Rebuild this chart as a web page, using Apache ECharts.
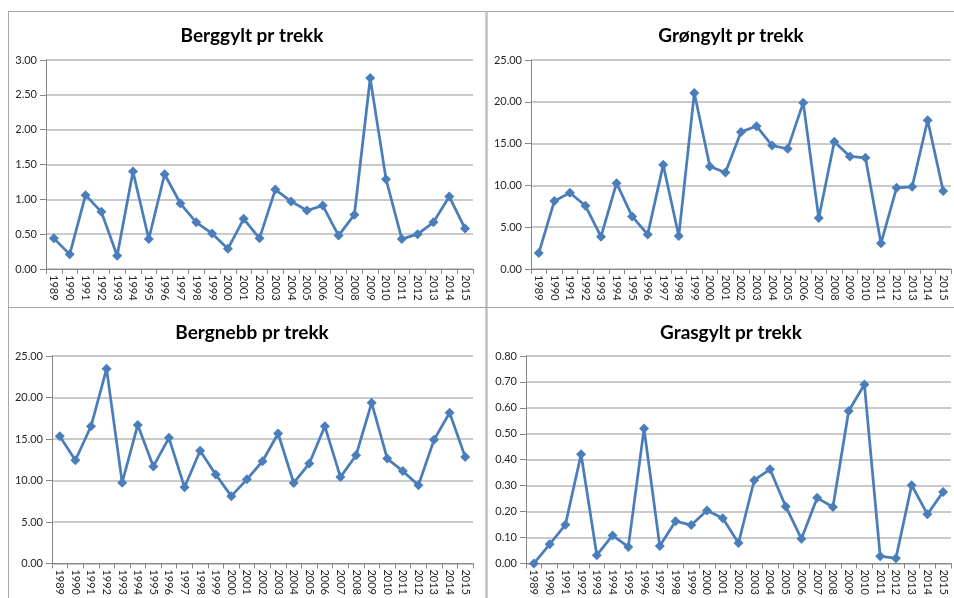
<!DOCTYPE html>
<html><head><meta charset="utf-8">
<script src="https://cdn.jsdelivr.net/npm/echarts@6/dist/echarts.min.js"></script>
<style>html,body{margin:0;padding:0;background:#fff}#c{width:954px;height:598px}</style>
</head><body><div id="c"></div>
<script>
const years = ['1989','1990','1991','1992','1993','1994','1995','1996','1997','1998','1999','2000','2001','2002','2003','2004','2005','2006','2007','2008','2009','2010','2011','2012','2013','2014','2015'];
const berggylt = [0.44,0.21,1.06,0.82,0.19,1.40,0.43,1.36,0.94,0.67,0.51,0.29,0.72,0.44,1.14,0.97,0.84,0.91,0.48,0.78,2.74,1.29,0.43,0.50,0.67,1.04,0.58];
const grongylt = [1.91,8.12,9.12,7.56,3.86,10.27,6.29,4.14,12.46,3.94,21.06,12.26,11.54,16.40,17.08,14.77,14.37,19.90,6.09,15.21,13.46,13.30,3.07,9.71,9.83,17.79,9.32];
const bergnebb = [15.34,12.44,16.53,23.45,9.74,16.69,11.69,15.14,9.18,13.59,10.73,8.11,10.14,12.32,15.66,9.70,12.04,16.53,10.41,13.04,19.36,12.64,11.13,9.42,14.90,18.16,12.84];
const grasgylt = [0.00,0.074,0.149,0.421,0.032,0.108,0.064,0.520,0.067,0.163,0.148,0.204,0.174,0.079,0.321,0.363,0.220,0.095,0.253,0.218,0.588,0.690,0.028,0.020,0.302,0.190,0.276];
const titles = ['Berggylt pr trekk','Grøngylt pr trekk','Bergnebb pr trekk','Grasgylt pr trekk'];
const seriesData = [berggylt, grongylt, bergnebb, grasgylt];
const yMax = [3, 25, 25, 0.8];
const yStep = [0.5, 5, 5, 0.1];

const grids = [
  {left:46, top:60, width:427, height:209},
  {left:531, top:60, width:420, height:209},
  {left:52, top:356, width:421, height:210},
  {left:526, top:356, width:425, height:210}
];
const titlePos = [[247,21],[726,21],[247,318],[726,318]];
const FONT = 'Lato, "Open Sans", sans-serif';

const chart = echarts.init(document.getElementById('c'), null, {renderer:'canvas'});
const option = {
  backgroundColor:'#fff',
  animation:false,
  title: titles.map((t,i)=>({text:t, left:titlePos[i][0], top:titlePos[i][1], textAlign:'center',
    textStyle:{fontFamily:FONT, fontSize:19, fontWeight:'bold', color:'#000'}})),
  grid: grids.map(g=>Object.assign({containLabel:false}, g)),
  xAxis: grids.map((g,i)=>({type:'category', gridIndex:i, data:years, boundaryGap:true,
    axisLine:{lineStyle:{color:'#868686', width:1}},
    axisTick:{show:true, length:5, interval:0, lineStyle:{color:'#868686'}},
    axisLabel:{rotate:-90, interval:0, fontFamily:FONT, fontSize:11, color:'#262626', margin:6}})),
  yAxis: grids.map((g,i)=>({type:'value', gridIndex:i, min:0, max:yMax[i], interval:yStep[i],
    axisLine:{show:true, lineStyle:{color:'#868686', width:1}},
    axisTick:{show:true, length:6, lineStyle:{color:'#868686'}},
    splitLine:{lineStyle:{color:'#b8b8b8', width:1.5}},
    axisLabel:{fontFamily:FONT, fontSize:11, color:'#262626', margin:9, formatter:v=>v.toFixed(2)}})),
  series: seriesData.map((d,i)=>({type:'line', xAxisIndex:i, yAxisIndex:i, data:d,
    symbol:'diamond', symbolSize:10, showSymbol:true,
    lineStyle:{color:'#4a7ebb', width:2.75}, itemStyle:{color:'#4a7ebb'}})),
  graphic: [
    {type:'line', shape:{x1:8,y1:11.5,x2:954,y2:11.5}, style:{stroke:'#a6a6a6', lineWidth:1}},
    {type:'line', shape:{x1:8.5,y1:11,x2:8.5,y2:598}, style:{stroke:'#a6a6a6', lineWidth:1}},
    {type:'line', shape:{x1:486.5,y1:11,x2:486.5,y2:598}, style:{stroke:'#c0c0c0', lineWidth:2.5}},
    {type:'line', shape:{x1:8,y1:307.5,x2:954,y2:307.5}, style:{stroke:'#a6a6a6', lineWidth:1}}
  ]
};
chart.setOption(option);
</script></body></html>
